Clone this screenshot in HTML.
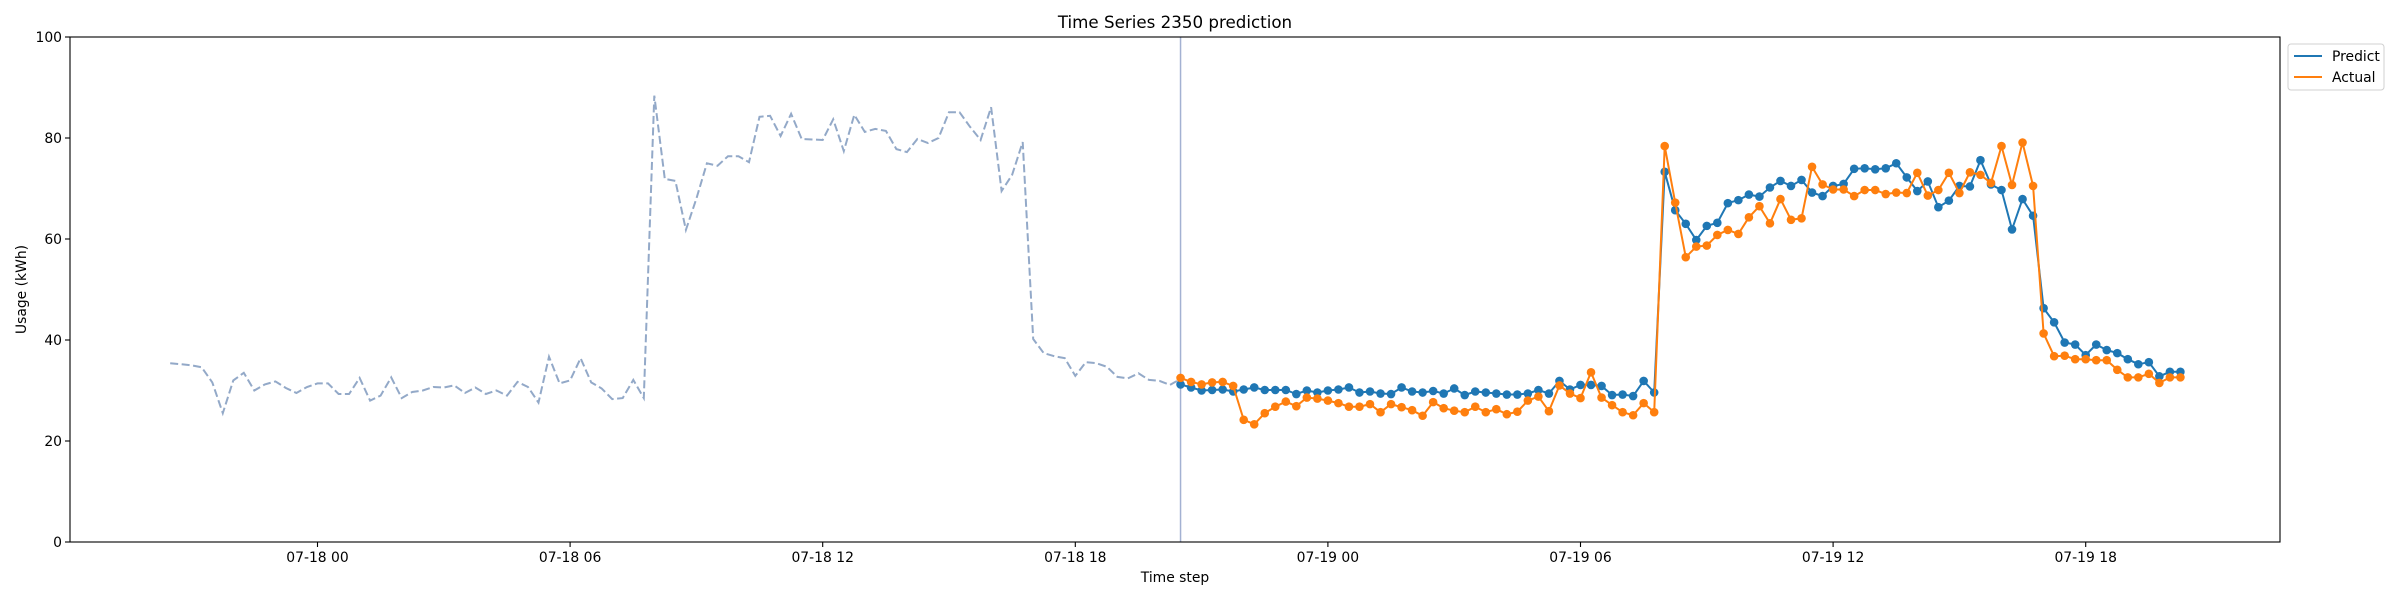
<!DOCTYPE html>
<html><head><meta charset="utf-8"><style>
html,body{margin:0;padding:0;background:#fff;}
svg{display:block;font-family:"DejaVu Sans","Liberation Sans",sans-serif;}
</style></head><body>
<svg id="chart" width="2400" height="600" viewBox="0 0 2400 600" xmlns="http://www.w3.org/2000/svg">
<rect width="2400" height="600" fill="#fff"/>
<text x="1175" y="28" font-size="16.7" text-anchor="middle">Time Series 2350 prediction</text>
<g id="plot"></g>
<rect x="70" y="37" width="2210" height="505" fill="none" stroke="#000" stroke-width="1.1"/>
<text transform="translate(26,289.5) rotate(-90)" font-size="13.9" text-anchor="middle">Usage (kWh)</text>
<text x="1175" y="582" font-size="13.9" text-anchor="middle">Time step</text>
<g>
<rect x="2288" y="44" width="96" height="46" rx="3" fill="#fff" stroke="#d0d0d0"/>
<line x1="2294" y1="56" x2="2322" y2="56" stroke="#1f77b4" stroke-width="2"/>
<text x="2332" y="61" font-size="13.9">Predict</text>
<line x1="2294" y1="77" x2="2322" y2="77" stroke="#ff7f0e" stroke-width="2"/>
<text x="2332" y="82" font-size="13.9">Actual</text>
</g>
</svg>
<script>
const history = [35.4,35.2,35,34.6,31.6,25.5,32,33.5,30,31.2,31.8,30.5,29.5,30.7,31.4,31.4,29.3,29.3,32.5,28,29,32.6,28.5,29.7,30,30.7,30.6,31,29.5,30.6,29.3,30,29,31.7,30.7,27.6,36.7,31.4,32,36.4,31.6,30.4,28.3,28.5,32.1,28.5,88.4,71.9,71.5,61.8,68,75,74.5,76.4,76.4,75.2,84.2,84.4,80.4,84.8,79.8,79.7,79.6,83.7,77.4,84.6,81.2,81.8,81.4,77.8,77.2,79.8,79,80,85.1,85.1,82.2,79.6,86.1,69.5,72.7,79.2,40.2,37.4,36.8,36.4,32.9,35.6,35.4,34.7,32.7,32.4,33.4,32.1,31.9,31.1,32.3];
const predict = [31.2,30.6,30.0,30.1,30.2,29.8,30.2,30.6,30.1,30.1,30.1,29.3,30.0,29.6,30.0,30.2,30.6,29.6,29.8,29.4,29.3,30.6,29.8,29.6,29.9,29.4,30.4,29.1,29.8,29.6,29.4,29.2,29.2,29.4,30.1,29.4,31.9,30.2,31.1,31.1,30.9,29.1,29.2,28.9,31.9,29.6,73.3,65.7,63.0,59.8,62.6,63.2,67.1,67.7,68.8,68.4,70.2,71.5,70.5,71.7,69.2,68.5,70.5,70.9,73.9,74.0,73.8,74.0,75.0,72.2,69.5,71.4,66.3,67.6,70.5,70.4,75.6,70.8,69.7,61.9,67.9,64.6,46.3,43.5,39.5,39.1,37.0,39.1,38.0,37.4,36.2,35.2,35.6,32.8,33.7,33.7];
const actual = [32.5,31.7,31.2,31.6,31.7,30.9,24.2,23.3,25.5,26.8,27.8,26.9,28.6,28.4,28.0,27.5,26.8,26.8,27.3,25.7,27.3,26.7,26.1,25.0,27.7,26.5,26.0,25.7,26.8,25.7,26.3,25.3,25.8,28.0,28.8,25.9,31.0,29.4,28.5,33.6,28.6,27.1,25.7,25.1,27.5,25.7,78.4,67.2,56.4,58.5,58.7,60.8,61.8,61.0,64.3,66.5,63.1,67.9,63.8,64.1,74.3,70.8,69.8,69.8,68.5,69.7,69.7,68.9,69.2,69.1,73.1,68.6,69.7,73.1,69.1,73.2,72.7,71.1,78.4,70.7,79.1,70.5,41.3,36.8,36.9,36.2,36.2,36.0,36.0,34.1,32.6,32.6,33.3,31.5,32.6,32.6];
const historyStartHour = -3.5;
const forecastStartHour = 20.5;
const stepHours = 0.25;
const yTicks = [0,20,40,60,80,100];
const xTickHours = [0,6,12,18,24,30,36,42];
const xTickLabels = ["07-18 00","07-18 06","07-18 12","07-18 18","07-19 00","07-19 06","07-19 12","07-19 18"];

const NS = "http://www.w3.org/2000/svg";
const L = 70, R = 2280, T = 37, B = 542;
const xOf = h => 317.5 + 42.1 * h;
const yOf = v => B - (v / 100) * (B - T);
const plot = document.getElementById('plot');
function mk(tag, attrs, parent) {
  const e = document.createElementNS(NS, tag);
  for (const k in attrs) e.setAttribute(k, attrs[k]);
  (parent || plot).appendChild(e);
  return e;
}
yTicks.forEach(v => {
  const g = mk('g', {});
  
  
  mk('line', {x1: L - 5, x2: L, y1: yOf(v), y2: yOf(v), stroke: '#000', 'stroke-width': 1.1}, g);
  const t = mk('text', {x: L - 8, y: yOf(v) + 5, 'font-size': 13.9, 'text-anchor': 'end'}, g);
  t.textContent = v;
});
xTickHours.forEach((h, i) => {
  const g = mk('g', {});
  
  
  mk('line', {x1: xOf(h), x2: xOf(h), y1: B, y2: B + 5, stroke: '#000', 'stroke-width': 1.1}, g);
  const t = mk('text', {x: xOf(h), y: B + 20, 'font-size': 13.9, 'text-anchor': 'middle'}, g);
  t.textContent = xTickLabels[i];
});
const vline = mk('line', {x1: xOf(forecastStartHour), x2: xOf(forecastStartHour), y1: T, y2: B, stroke: '#a3b1d2', 'stroke-width': 1.5});


function pts(arr, start) { return arr.map((v, i) => xOf(start + i * stepHours).toFixed(1) + ',' + yOf(v).toFixed(1)).join(' '); }
const hl = mk('polyline', {points: pts(history, historyStartHour), fill: 'none', stroke: '#93a9c8', 'stroke-width': 2, 'stroke-dasharray': '8,3.5'});


[[predict, '#1f77b4', 'predict'], [actual, '#ff7f0e', 'actual']].forEach(([arr, col, nm]) => {
  const g = mk('g', {});
  
  
  mk('polyline', {points: pts(arr, forecastStartHour), fill: 'none', stroke: col, 'stroke-width': 2}, g);
  arr.forEach((v, i) => {
    const c = mk('circle', {cx: xOf(forecastStartHour + i * stepHours), cy: yOf(v), r: 4.3, fill: col}, g);
    
    
  });
});
</script>
</body></html>
